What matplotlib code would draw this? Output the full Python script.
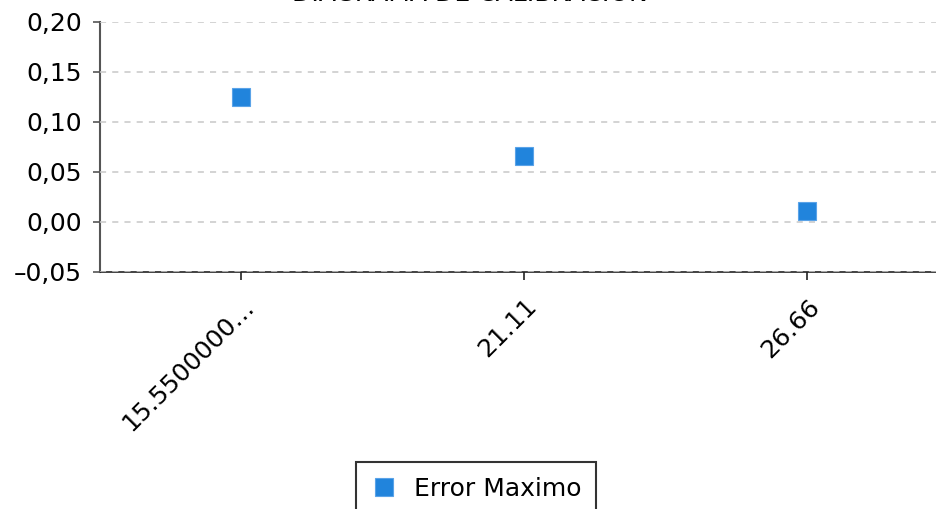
import matplotlib
matplotlib.use("Agg")
import matplotlib.pyplot as plt
from matplotlib.ticker import FuncFormatter
from matplotlib.transforms import ScaledTranslation

# data
categories = ["15.5500000…", "21.11", "26.66"]
error_max = [0.125, 0.066, 0.011]
y_ticks = [-0.05, 0.0, 0.05, 0.10, 0.15, 0.20]

plt.rcParams['font.family'] = ['DejaVu Sans']

fig = plt.figure(figsize=(9.37, 5.09), dpi=100)
# plot area runs from x=100px past the right edge (category band -0.5..2.5)
ax = fig.add_axes([100 / 937, 1 - 272 / 509, 849 / 937, 250 / 509])

x = range(len(categories))
ax.plot(x, error_max, linestyle='none', marker='s', markersize=13,
        markerfacecolor='#2184dc', markeredgecolor='#5aa3e8',
        markeredgewidth=0.8, label='Error Maximo', zorder=3)

ax.set_xlim(-0.5, 2.5)
ax.set_ylim(-0.05, 0.20)
ax.set_yticks(y_ticks)
ax.yaxis.set_major_formatter(FuncFormatter(lambda v, p: f"{v:.2f}".replace('.', ',').replace('-', '\u2013')))
ax.set_xticks(list(x))
ax.set_xticklabels(categories, rotation=45, ha='right', rotation_mode='anchor')
shift = ScaledTranslation(-9 / 100, 0, fig.dpi_scale_trans)
for lbl in ax.get_xticklabels():
    lbl.set_transform(lbl.get_transform() + shift)

ax.grid(axis='y', linestyle=(0, (4, 4)), color='#c8c8c8', linewidth=1.1, zorder=4)
ax.set_axisbelow(False)

for s in ('top', 'right'):
    ax.spines[s].set_visible(False)
ax.spines['left'].set_color('#555555')
ax.spines['left'].set_linewidth(1.5)
ax.spines['bottom'].set_color('#222222')
ax.spines['bottom'].set_linewidth(1.2)

ax.tick_params(axis='y', labelsize=18, length=5, width=1.2, color='#555555', pad=8)
ax.tick_params(axis='x', labelsize=18, length=6, width=1.2, color='#222222', pad=10)

fig.text(470 / 937, 1 - 1 / 509, "DIAGRAMA DE CALIBRACION", ha='center', va='baseline',
         fontsize=18)

leg = fig.legend(loc='upper center', bbox_to_anchor=(476 / 937, 1 - 462 / 509),
                 frameon=True, fancybox=False, fontsize=18, handletextpad=0.7,
                 borderpad=0.6, borderaxespad=0, handlelength=1.0, markerscale=1.0)
leg.get_frame().set_edgecolor('black')
leg.get_frame().set_linewidth(1.5)

fig.savefig("out.png", dpi=100)
